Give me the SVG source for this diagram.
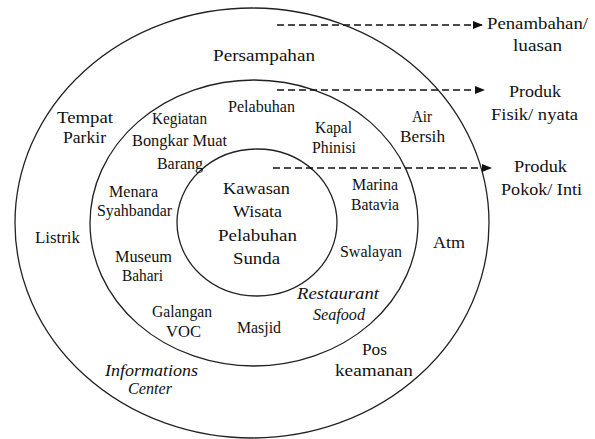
<svg xmlns="http://www.w3.org/2000/svg" width="595" height="439" viewBox="0 0 595 439">
<style>
.ring{fill:none;stroke:#222;stroke-width:1.3}
.dash{fill:none;stroke:#111;stroke-width:1.5;stroke-dasharray:7 4}
text{font-family:"Liberation Serif","Times New Roman",Times,Tinos,"Noto Serif","DejaVu Serif",serif;font-size:16px;fill:#111;text-anchor:middle}
.it{font-style:italic}
</style>
<defs>
<marker id="ah" viewBox="0 0 10 8" refX="10" refY="4" markerWidth="10" markerHeight="8" markerUnits="userSpaceOnUse" orient="auto">
<path d="M0,0 L10,4 L0,8 Z" fill="#111"/>
</marker>
</defs>
<rect width="595" height="439" fill="#fff"/>
<g id="rings">
<ellipse id="outer" class="ring" cx="252" cy="223" rx="237" ry="215"/>
<ellipse id="middle" class="ring" cx="254" cy="223" rx="164" ry="143"/>
<ellipse id="inner" class="ring" cx="257" cy="222.5" rx="80" ry="73.5"/>
</g>
<g id="connectors">
<line class="dash" x1="277" y1="25" x2="483" y2="25" marker-end="url(#ah)"/>
<line class="dash" x1="277" y1="90" x2="485" y2="90" marker-end="url(#ah)"/>
<line class="dash" x1="273" y1="168" x2="492" y2="168" marker-end="url(#ah)"/>
</g>
<g id="penambahan"><text x="537.5" y="29" textLength="101" lengthAdjust="spacingAndGlyphs">Penambahan/</text><text x="537.5" y="51" textLength="49" lengthAdjust="spacingAndGlyphs">luasan</text></g>
<g id="produk-fisik"><text x="535" y="97" textLength="52" lengthAdjust="spacingAndGlyphs">Produk</text><text x="534.5" y="120" textLength="87" lengthAdjust="spacingAndGlyphs">Fisik/ nyata</text></g>
<g id="produk-pokok"><text x="540.5" y="172" textLength="53" lengthAdjust="spacingAndGlyphs">Produk</text><text x="541.5" y="195" textLength="81" lengthAdjust="spacingAndGlyphs">Pokok/ Inti</text></g>
<g id="persampahan"><text x="264" y="61" textLength="102" lengthAdjust="spacingAndGlyphs">Persampahan</text></g>
<g id="tempat-parkir"><text x="85" y="123" textLength="56" lengthAdjust="spacingAndGlyphs">Tempat</text><text x="84.5" y="143" textLength="43" lengthAdjust="spacingAndGlyphs">Parkir</text></g>
<g id="kegiatan"><text x="179.5" y="124" textLength="55" lengthAdjust="spacingAndGlyphs">Kegiatan</text><text x="179.5" y="146" textLength="95" lengthAdjust="spacingAndGlyphs">Bongkar Muat</text><text x="180" y="169" textLength="46" lengthAdjust="spacingAndGlyphs">Barang</text></g>
<g id="pelabuhan"><text x="261.5" y="112" textLength="67" lengthAdjust="spacingAndGlyphs">Pelabuhan</text></g>
<g id="kapal-phinisi"><text x="333.5" y="133" textLength="37" lengthAdjust="spacingAndGlyphs">Kapal</text><text x="334" y="153" textLength="44" lengthAdjust="spacingAndGlyphs">Phinisi</text></g>
<g id="air-bersih"><text x="422" y="122" textLength="20" lengthAdjust="spacingAndGlyphs">Air</text><text x="422.5" y="142" textLength="45" lengthAdjust="spacingAndGlyphs">Bersih</text></g>
<g id="menara"><text x="133.5" y="197" textLength="49" lengthAdjust="spacingAndGlyphs">Menara</text><text x="134.5" y="216" textLength="75" lengthAdjust="spacingAndGlyphs">Syahbandar</text></g>
<g id="kawasan"><text x="256.5" y="194" textLength="67" lengthAdjust="spacingAndGlyphs">Kawasan</text><text x="257.5" y="217" textLength="49" lengthAdjust="spacingAndGlyphs">Wisata</text><text x="257.5" y="241" textLength="79" lengthAdjust="spacingAndGlyphs">Pelabuhan</text><text x="256.5" y="264" textLength="47" lengthAdjust="spacingAndGlyphs">Sunda</text></g>
<g id="marina"><text x="375" y="190" textLength="46" lengthAdjust="spacingAndGlyphs">Marina</text><text x="375" y="210" textLength="48" lengthAdjust="spacingAndGlyphs">Batavia</text></g>
<g id="listrik"><text x="57.5" y="243" textLength="45" lengthAdjust="spacingAndGlyphs">Listrik</text></g>
<g id="museum"><text x="143.5" y="262" textLength="57" lengthAdjust="spacingAndGlyphs">Museum</text><text x="142.5" y="281" textLength="41" lengthAdjust="spacingAndGlyphs">Bahari</text></g>
<g id="swalayan"><text x="371" y="257" textLength="62" lengthAdjust="spacingAndGlyphs">Swalayan</text></g>
<g id="atm"><text x="449" y="248" textLength="32" lengthAdjust="spacingAndGlyphs">Atm</text></g>
<g id="restaurant"><text class="it" x="338" y="299" textLength="82" lengthAdjust="spacingAndGlyphs">Restaurant</text><text class="it" x="339" y="320" textLength="52" lengthAdjust="spacingAndGlyphs">Seafood</text></g>
<g id="galangan"><text x="182" y="317" textLength="60" lengthAdjust="spacingAndGlyphs">Galangan</text><text x="183.5" y="337" textLength="35" lengthAdjust="spacingAndGlyphs">VOC</text></g>
<g id="masjid"><text x="259" y="333" textLength="44" lengthAdjust="spacingAndGlyphs">Masjid</text></g>
<g id="pos"><text x="374.5" y="355" textLength="25" lengthAdjust="spacingAndGlyphs">Pos</text><text x="374" y="376" textLength="78" lengthAdjust="spacingAndGlyphs">keamanan</text></g>
<g id="informations"><text class="it" x="151.5" y="376" textLength="93" lengthAdjust="spacingAndGlyphs">Informations</text><text class="it" x="150" y="394" textLength="44" lengthAdjust="spacingAndGlyphs">Center</text></g>
</svg>
